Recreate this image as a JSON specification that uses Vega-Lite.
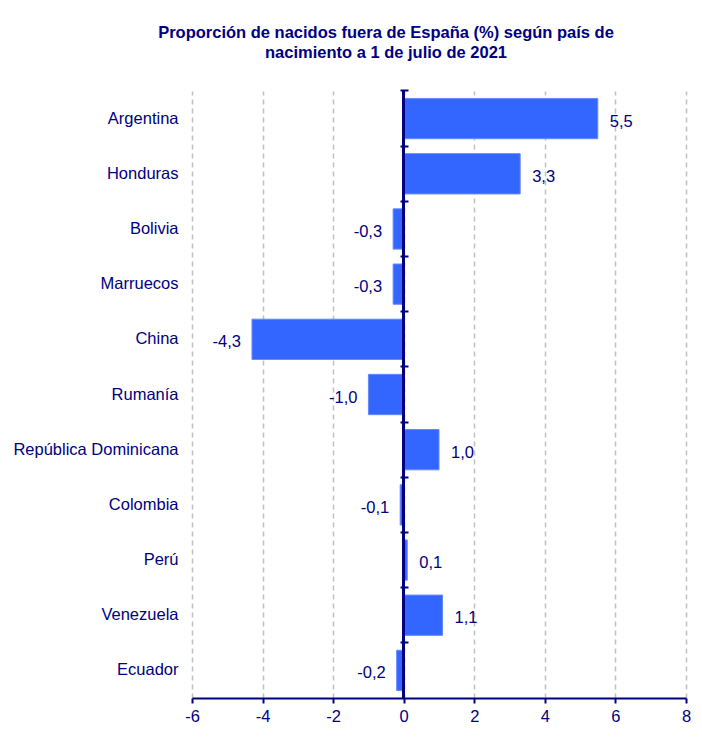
{
  "$schema": "https://vega.github.io/schema/vega-lite/v6.json",
  "autosize": "none",
  "width": 494,
  "height": 607,
  "padding": {"left": 192, "top": 91, "right": 16, "bottom": 56},
  "background": "white",
  "title": {
    "text": ["Proporción de nacidos fuera de España (%) según país de", "nacimiento a 1 de julio de 2021"],
    "anchor": "middle",
    "frame": "group",
    "dx": -53,
    "offset": 28,
    "font": "Liberation Sans",
    "fontSize": 16.5,
    "fontWeight": "bold",
    "color": "#000080",
    "lineHeight": 20
  },
  "config": {
    "locale": {"number": {"decimal": ",", "thousands": ".", "grouping": [3], "currency": ["", " €"], "minus": "-"}},
    "view": {"stroke": null},
    "font": "Liberation Sans"
  },
  "resolve": {"axis": {"y": "independent"}},
  "data": {
    "values": [
      {"pais": "Argentina", "valor": 5.5},
      {"pais": "Honduras", "valor": 3.3},
      {"pais": "Bolivia", "valor": -0.3},
      {"pais": "Marruecos", "valor": -0.3},
      {"pais": "China", "valor": -4.3},
      {"pais": "Rumanía", "valor": -1.0},
      {"pais": "República Dominicana", "valor": 1.0},
      {"pais": "Colombia", "valor": -0.1},
      {"pais": "Perú", "valor": 0.1},
      {"pais": "Venezuela", "valor": 1.1},
      {"pais": "Ecuador", "valor": -0.2}
    ]
  },
  "layer": [
    {
      "mark": {"type": "bar", "color": "#3366ff", "stroke": "#6688ff", "strokeWidth": 1},
      "encoding": {
        "y": {
          "field": "pais",
          "type": "nominal",
          "sort": null,
          "scale": {"paddingInner": 0.27, "paddingOuter": 0.135},
          "axis": {
            "title": null,
            "domain": false,
            "ticks": false,
            "grid": false,
            "labelFont": "Liberation Sans",
            "labelFontSize": 16.5,
            "labelColor": "#000080",
            "labelPadding": 14
          }
        },
        "x": {
          "field": "valor",
          "type": "quantitative",
          "scale": {"domain": [-6, 8], "nice": false, "zero": false},
          "axis": {
            "title": null,
            "values": [-6, -4, -2, 0, 2, 4, 6, 8],
            "format": "d",
            "labelFlush": false,
            "grid": true,
            "gridColor": "#c0c0c0",
            "gridDash": [5, 4],
            "gridWidth": 1.5,
            "domainColor": "#000080",
            "domainWidth": 2,
            "tickColor": "#000080",
            "tickWidth": 2,
            "tickSize": 5,
            "labelColor": "#000080",
            "labelFont": "Liberation Sans",
            "labelFontSize": 16.5,
            "labelPadding": 5
          }
        }
      }
    },
    {
      "mark": {"type": "rule", "color": "#000080", "strokeWidth": 2},
      "encoding": {"x": {"datum": 0}}
    },
    {
      "mark": {"type": "point", "opacity": 0},
      "encoding": {
        "x": {"datum": 0},
        "y": {
          "field": "pais",
          "type": "nominal",
          "sort": null,
          "axis": {
            "orient": "right",
            "offset": -286,
            "title": null,
            "labels": false,
            "domain": false,
            "grid": false,
            "ticks": true,
            "tickSize": 8,
            "tickWidth": 2,
            "tickColor": "#000080",
            "bandPosition": -0.185
          }
        }
      }
    },
    {
      "transform": [{"filter": "datum.valor >= 0"}],
      "mark": {"type": "text", "align": "left", "baseline": "middle", "dx": 12, "dy": 3, "font": "Liberation Sans", "fontSize": 16.5, "color": "#000080"},
      "encoding": {
        "y": {"field": "pais", "type": "nominal", "sort": null, "axis": null},
        "x": {"field": "valor", "type": "quantitative"},
        "text": {"field": "valor", "type": "quantitative", "format": ".1f"}
      }
    },
    {
      "transform": [{"filter": "datum.valor < 0"}],
      "mark": {"type": "text", "align": "right", "baseline": "middle", "dx": -11, "dy": 3, "font": "Liberation Sans", "fontSize": 16.5, "color": "#000080"},
      "encoding": {
        "y": {"field": "pais", "type": "nominal", "sort": null, "axis": null},
        "x": {"field": "valor", "type": "quantitative"},
        "text": {"field": "valor", "type": "quantitative", "format": ".1f"}
      }
    }
  ]
}
